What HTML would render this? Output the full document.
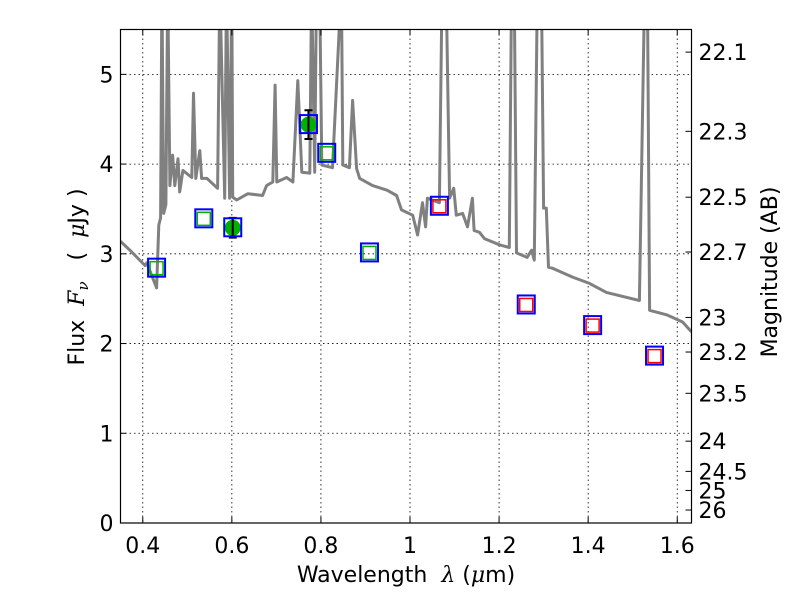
<!DOCTYPE html>
<html><head><meta charset="utf-8"><style>
html,body{margin:0;padding:0;background:#fff;}
svg{display:block;font-family:"DejaVu Sans","Liberation Sans",sans-serif;}
</style></head><body>
<svg id="chart" width="800" height="600" viewBox="0 0 800 600" xmlns="http://www.w3.org/2000/svg">
<rect x="0" y="0" width="800" height="600" fill="#fff"/>
<g id="grid"></g>
<g id="spec"></g>
<g id="pts"></g>
<g id="axes"></g>
</svg>
<script>
const specWave=[0.350,0.371,0.405,0.409,0.431,0.436,0.440,0.443,0.447,0.452,0.456,0.461,0.467,0.472,0.479,0.483,0.490,0.510,0.514,0.519,0.528,0.532,0.544,0.568,0.573,0.584,0.588,0.595,0.600,0.602,0.611,0.636,0.669,0.678,0.692,0.697,0.701,0.723,0.737,0.748,0.757,0.775,0.779,0.786,0.790,0.797,0.802,0.826,0.846,0.849,0.864,0.871,0.880,0.887,0.916,0.948,0.970,0.981,1.006,1.017,1.028,1.035,1.039,1.066,1.072,1.081,1.089,1.098,1.104,1.118,1.129,1.140,1.144,1.156,1.167,1.201,1.223,1.228,1.234,1.239,1.263,1.273,1.279,1.286,1.295,1.300,1.306,1.311,1.320,1.365,1.403,1.441,1.515,1.527,1.533,1.538,1.576,1.612,1.632];
const specFlux=[3.14,3.04,2.87,2.90,2.62,3.32,3.40,6,3.45,3.55,6,3.76,4.10,3.76,4.06,3.69,3.93,3.85,4.79,3.84,4.15,3.84,3.84,3.73,6,3.62,6,3.62,6,3.63,3.60,3.67,3.65,3.76,3.80,4.88,3.80,3.85,3.80,4.93,3.91,3.90,6,3.91,6,6,3.99,3.96,6,3.99,3.96,4.71,3.95,3.84,3.76,3.71,3.65,3.49,3.43,3.21,3.57,3.30,3.62,3.57,6,6,3.62,3.73,3.43,3.45,3.30,3.62,3.26,3.24,3.17,3.10,3.07,6,6,3.01,2.96,3.04,2.93,6,6,3.51,3.51,2.85,2.84,2.74,2.67,2.57,2.48,6,6,2.37,2.32,2.24,2.13];
const obsWave=[0.431,0.537,0.602,0.772,0.813,0.909,1.066,1.261,1.410,1.549];
const obsFlux=[2.84,3.39,3.29,4.44,4.12,3.01,3.53,2.43,2.20,1.86];
const modelKind=["g","g","c","c","g","g","r","r","r","r"];
const obsErr=[0,0,0.11,0.16,0,0,0,0,0,0];
const xTicks=[0.4,0.6,0.8,1.0,1.2,1.4,1.6];
const xTickLabels=["0.4","0.6","0.8","1","1.2","1.4","1.6"];
const yTicks=[0,1,2,3,4,5];
const magTicks=[22.1,22.3,22.5,22.7,23,23.2,23.5,24,24.5,25,26];

const L=120.5,R=691.5,T=29.5,B=523;
const X0=0.35,X1=1.632,Y0=0,Y1=5.5;
const sx=v=>L+(v-X0)/(X1-X0)*(R-L);
const sy=v=>B-(v-Y0)/(Y1-Y0)*(B-T);
const NS="http://www.w3.org/2000/svg";
function mk(tag,attrs,parent,text){const e=document.createElementNS(NS,tag);for(const k in attrs)e.setAttribute(k,attrs[k]);if(text!==undefined)e.textContent=text;document.getElementById(parent).appendChild(e);return e;}

const defs=document.createElementNS(NS,"defs");
defs.innerHTML='<clipPath id="clip"><rect x="'+L+'" y="'+T+'" width="'+(R-L)+'" height="'+(B-T)+'"/></clipPath>';
document.getElementById("chart").insertBefore(defs,document.getElementById("grid"));

xTicks.forEach(v=>{const g=mk("line",{x1:sx(v),x2:sx(v),y1:T,y2:B,stroke:"#000","stroke-width":0.8,"stroke-dasharray":"1.5,3"},"grid");

});
yTicks.forEach(v=>{const g=mk("line",{x1:L,x2:R,y1:sy(v),y2:sy(v),stroke:"#000","stroke-width":0.8,"stroke-dasharray":"1.5,3"},"grid");

});

let d="";specWave.forEach((w,i)=>{d+=(i?"L":"M")+sx(w).toFixed(1)+","+sy(specFlux[i]).toFixed(1);});
const sp=mk("path",{d:d,fill:"none",stroke:"#808080","stroke-width":3,"clip-path":"url(#clip)","stroke-linejoin":"round"},"spec");



obsWave.forEach((w,i)=>{
 const cx=sx(w),cy=sy(obsFlux[i]);
 if(modelKind[i]==="c"){
  const c=mk("circle",{cx:cx,cy:cy,r:8,fill:"#00b000"},"pts");
  
  
  const y1=sy(obsFlux[i]+obsErr[i]),y2=sy(obsFlux[i]-obsErr[i]);
  const e=mk("path",{d:`M${cx},${y1}L${cx},${y2}M${cx-4},${y1}L${cx+4},${y1}M${cx-4},${y2}L${cx+4},${y2}`,stroke:"#000","stroke-width":2,fill:"none"},"pts");
  
  
 } else {
  const inner=mk("rect",{x:cx-6.5,y:cy-6.5,width:13,height:13,fill:"none",stroke:modelKind[i]==="g"?"#00b000":"#ff0000","stroke-width":1.5},"pts");
  
  
 }
 const b=mk("rect",{x:cx-8.5,y:cy-9.5,width:17,height:18,fill:"none",stroke:"#0000ff","stroke-width":2},"pts");
 
 
});

const fr=mk("rect",{x:L,y:T,width:R-L,height:B-T,fill:"none",stroke:"#000","stroke-width":1.2},"axes");


xTicks.forEach((v,i)=>{
 mk("path",{d:`M${sx(v)},${B}v-6M${sx(v)},${T}v6`,stroke:"#000","stroke-width":1},"axes");
 const t=mk("text",{x:sx(v),y:B+30,"text-anchor":"middle","font-size":22},"axes",xTickLabels[i]);
 
 
});
yTicks.forEach(v=>{
 mk("path",{d:`M${L},${sy(v)}h6`,stroke:"#000","stroke-width":1},"axes");
 const t=mk("text",{x:L-7,y:sy(v)+8,"text-anchor":"end","font-size":22},"axes",String(v));
 
 
});
magTicks.forEach(m=>{
 const f=Math.pow(10,(23.9-m)/2.5);const y=sy(f);
 mk("path",{d:`M${R},${y}h-6`,stroke:"#000","stroke-width":1},"axes");
 const t=mk("text",{x:R+7,y:y+8,"font-size":22},"axes",String(m));
 
 
});
</script>
<svg style="position:absolute;left:0;top:0" width="800" height="600">
<text xml:space="preserve" x="406" y="582" text-anchor="middle" font-size="22" font-family="DejaVu Sans, sans-serif">Wavelength  <tspan font-style="italic" font-family="DejaVu Serif, serif">λ</tspan> (<tspan font-style="italic" font-family="DejaVu Serif, serif">μ</tspan>m)</text>
<text xml:space="preserve" transform="translate(84,277) rotate(-90)" text-anchor="middle" font-size="22" font-family="DejaVu Sans, sans-serif">Flux  <tspan font-style="italic" font-family="DejaVu Serif, serif">F<tspan font-size="15" dy="4">ν</tspan></tspan><tspan dy="-4">   (  </tspan><tspan font-style="italic" font-family="DejaVu Serif, serif">μ</tspan>Jy )</text>
<text transform="translate(777,272) rotate(-90)" text-anchor="middle" font-size="22" font-family="DejaVu Sans, sans-serif">Magnitude (AB)</text>
</svg>
</body></html>
